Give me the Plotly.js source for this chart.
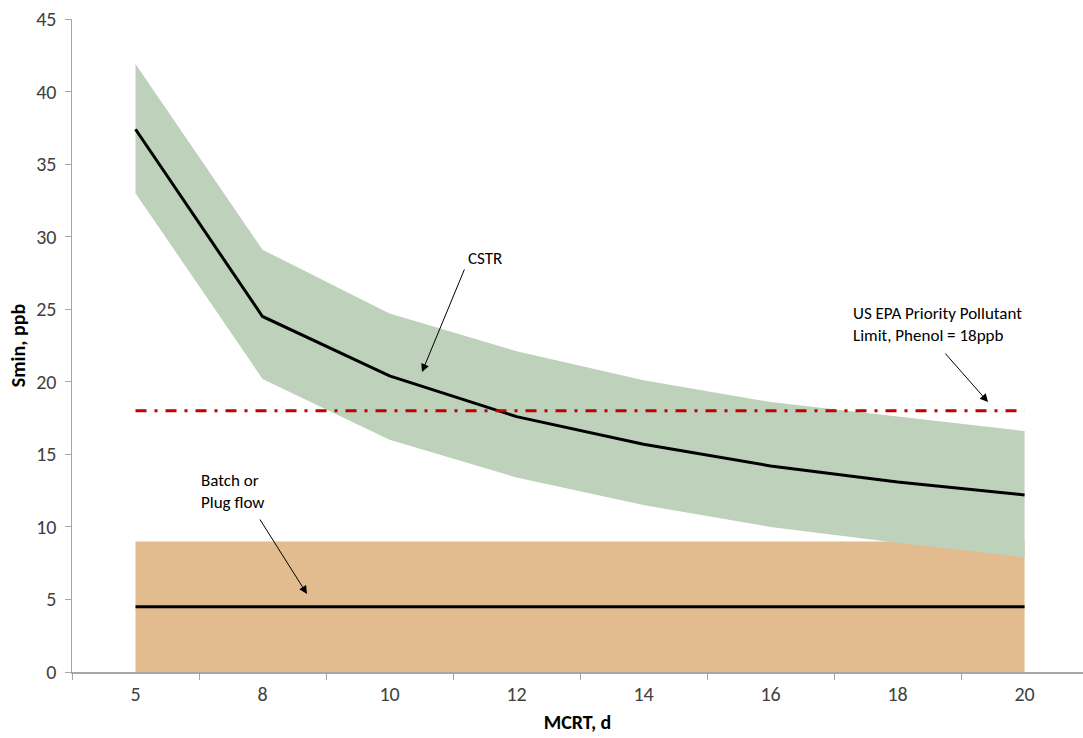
<!DOCTYPE html>
<html>
<head>
<meta charset="utf-8">
<script src="https://cdn.plot.ly/plotly-3.0.1.min.js"></script>
<style>html,body{margin:0;padding:0;background:#fff;} #chart{width:1083px;height:738px;}</style>
</head>
<body>
<div id="chart"></div>
<script>
// ---- data ----
const mcrt = ['5', '8', '10', '12', '14', '16', '18', '20'];
const cstr = [37.4, 24.5, 20.4, 17.6, 15.7, 14.2, 13.1, 12.2];
const cstrUpper = [41.9, 29.1, 24.7, 22.1, 20.1, 18.6, 17.6, 16.6];
const cstrLower = [33.0, 20.2, 16.0, 13.4, 11.5, 10.0, 8.9, 7.9];
const batch = [4.5, 4.5, 4.5, 4.5, 4.5, 4.5, 4.5, 4.5];
const batchUpper = [9, 9, 9, 9, 9, 9, 9, 9];
const epaLimit = [18, 18, 18, 18, 18, 18, 18, 18];
const yTicks = [0, 5, 10, 15, 20, 25, 30, 35, 40, 45];

const FONT = 'Carlito, Lato, "Open Sans", sans-serif';
const W = 1083, H = 738, ML = 72, MR = 0, MT = 19, MB = 66;
const PW = W - ML - MR, PH = H - MT - MB;
const px = v => (v - ML) / PW;
const py = v => (H - MB - v) / PH;

const traces = [
  { x: mcrt, y: batchUpper, type: 'scatter', mode: 'lines', fill: 'tozeroy',
    fillcolor: 'rgb(226,187,143)', line: { width: 0 }, hoverinfo: 'skip', showlegend: false },
  { x: mcrt, y: cstrLower, type: 'scatter', mode: 'lines',
    line: { width: 0, color: 'rgba(0,0,0,0)' }, hoverinfo: 'skip', showlegend: false },
  { x: mcrt, y: cstrUpper, type: 'scatter', mode: 'lines', fill: 'tonexty',
    fillcolor: 'rgb(189,209,187)', line: { width: 0, color: 'rgba(0,0,0,0)' }, hoverinfo: 'skip', showlegend: false },
  { x: mcrt, y: batch, type: 'scatter', mode: 'lines', line: { color: '#000', width: 3 }, showlegend: false },
  { x: mcrt, y: cstr, type: 'scatter', mode: 'lines', line: { color: '#000', width: 3 }, showlegend: false },
  { x: mcrt, y: epaLimit, type: 'scatter', mode: 'lines',
    line: { color: '#c00000', width: 3, dash: '11px,8px,3px,8px' }, showlegend: false }
];

const txtFont = { family: FONT, size: 17, color: '#000' };
const arrow = (hx, hy, tx, ty) => ({
  xref: 'paper', yref: 'paper', x: px(hx), y: py(hy), ax: tx - hx, ay: ty - hy,
  text: '', showarrow: true, arrowhead: 2, arrowsize: 1.6, arrowwidth: 1, arrowcolor: '#000'
});

const layout = {
  width: W, height: H,
  margin: { l: ML, r: MR, t: MT, b: MB, pad: 0 },
  paper_bgcolor: '#fff', plot_bgcolor: '#fff',
  font: { family: FONT, size: 17, color: '#404040' },
  xaxis: {
    type: 'category', range: [-0.5, 7.46], tickson: 'boundaries',
    showline: true, linecolor: '#a6a6a6', linewidth: 1.5,
    ticks: 'outside', ticklen: 6, tickcolor: '#a6a6a6', tickwidth: 1,
    ticklabelstandoff: 3,
    showgrid: false, zeroline: false,
    tickfont: { family: FONT, size: 20, color: '#404040' },
    title: { text: '<b>MCRT, d</b>', font: { family: FONT, size: 20, color: '#000' }, standoff: 10 }
  },
  yaxis: {
    range: [0, 45], tickvals: yTicks,
    showline: true, linecolor: '#a6a6a6', linewidth: 1.5,
    ticks: 'outside', ticklen: 6, tickcolor: '#a6a6a6', tickwidth: 1,
    ticklabelstandoff: 4,
    showgrid: false, zeroline: false,
    tickfont: { family: FONT, size: 20, color: '#404040' },
    title: { text: '<b>Smin, ppb</b>', font: { family: FONT, size: 20, color: '#000' }, standoff: 5 }
  },
  annotations: [
    { xref: 'paper', yref: 'paper', x: px(485), y: py(258), text: 'CSTR', showarrow: false,
      xanchor: 'center', yanchor: 'middle', font: txtFont },
    { xref: 'paper', yref: 'paper', x: px(851), y: py(324), text: 'US EPA Priority Pollutant<br>Limit, Phenol = 18ppb',
      showarrow: false, xanchor: 'left', yanchor: 'middle', align: 'left', font: txtFont },
    { xref: 'paper', yref: 'paper', x: px(199), y: py(491), text: 'Batch or<br>Plug flow',
      showarrow: false, xanchor: 'left', yanchor: 'middle', align: 'left', font: txtFont },
    arrow(422, 372, 465, 268),
    arrow(988, 402, 944, 352),
    arrow(307, 594, 259, 518)
  ]
};

Plotly.newPlot('chart', traces, layout, { displayModeBar: false, staticPlot: true });
</script>
</body>
</html>
